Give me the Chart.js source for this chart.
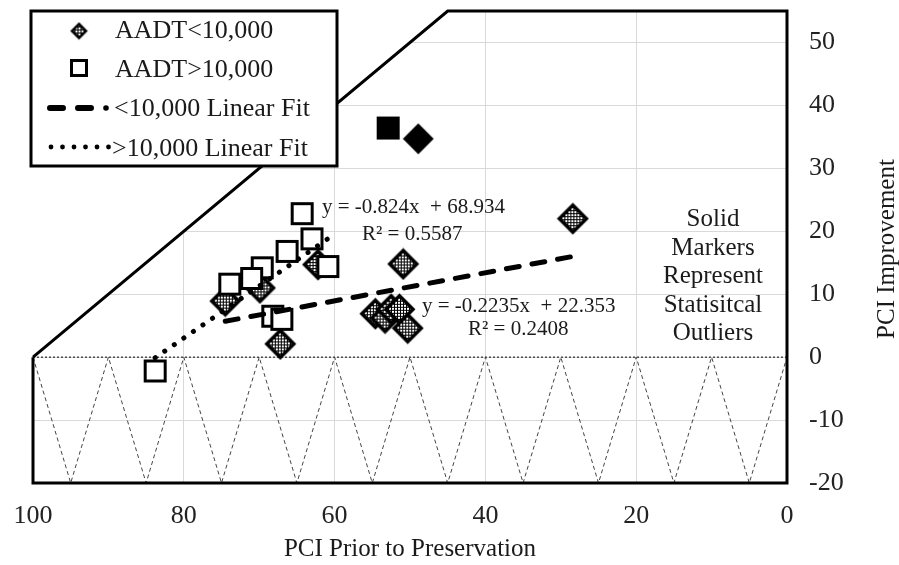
<!DOCTYPE html>
<html>
<head>
<meta charset="utf-8">
<script src="https://cdn.jsdelivr.net/npm/chart.js@4.4.1/dist/chart.umd.min.js"></script>
<style>
  html, body { margin: 0; padding: 0; background: #fff; }
  #wrap { width: 899px; height: 565px; }
</style>
</head>
<body>
<div id="wrap"><canvas id="chart" width="899" height="565"></canvas></div>
<script>
// Data
const lowX = [28.4, 50.9, 62.2, 69.9, 74.5, 67.2, 54.6, 53.3, 52.5, 51.4, 50.3];
const lowY = [22.0, 14.8, 14.7, 11.0, 8.9, 2.1, 6.9, 6.2, 7.6, 7.6, 4.6];
const highX = [64.3, 63.0, 66.3, 60.9, 69.6, 71.0, 73.9, 68.2, 67.0, 83.8];
const highY = [22.8, 18.8, 16.8, 14.4, 14.2, 12.5, 11.6, 6.5, 6.0, -2.2];
const outDiamondX = [48.9], outDiamondY = [34.7];
const outSquareX = [52.9], outSquareY = [36.4];
const lowFitX = [74.5, 28.4], lowFitY = [5.7, 16.0];
const highFitX = [83.8, 60.9], highFitY = [-0.1, 18.8];
const frameX = [100, 45, 0, 0, 100, 100];
const frameY = [0, 55, 55, -20, -20, 0];
const coverX = [100, 100, 45], coverY = [0, 55, 55];
const zigX = [100, 95, 90, 85, 80, 75, 70, 65, 60, 55, 50, 45, 40, 35, 30, 25, 20, 15, 10, 5, 0];
const zigY = [0, -20, 0, -20, 0, -20, 0, -20, 0, -20, 0, -20, 0, -20, 0, -20, 0, -20, 0, -20, 0];
const zeroX = [100, 0], zeroY = [0, 0];
const xTicks = [100, 80, 60, 40, 20, 0];
const yTicks = [-20, -10, 0, 10, 20, 30, 40, 50];
const legendLabels = ['AADT<10,000', 'AADT>10,000', '<10,000 Linear Fit', '>10,000 Linear Fit'];
const eqHigh = ['y = -0.824x  + 68.934', 'R² = 0.5587'];
const eqLow = ['y = -0.2235x  + 22.353', 'R² = 0.2408'];
const noteLines = ['Solid', 'Markers', 'Represent', 'Statisitcal', 'Outliers'];
const xTitle = 'PCI Prior to Preservation';
const yTitle = 'PCI Improvement';

const SERIF = '"Liberation Serif", "Times New Roman", serif';
const pts = (xs, ys) => xs.map((x, i) => ({ x: x, y: ys[i] }));

// marcadores dibujados en canvas
function makePattern() {
  const p = document.createElement('canvas');
  p.width = 3; p.height = 3;
  const c = p.getContext('2d');
  c.fillStyle = '#000'; c.fillRect(0, 0, 3, 3);
  c.fillStyle = '#fff'; c.fillRect(0, 0, 2, 2);
  return p;
}
function makeDiamond(diag, lw, solid) {
  const s = Math.ceil(diag + lw + 2);
  const cv = document.createElement('canvas');
  cv.width = s; cv.height = s;
  const c = cv.getContext('2d');
  const m = s / 2, h = diag / 2;
  c.beginPath();
  c.moveTo(m, m - h); c.lineTo(m + h, m); c.lineTo(m, m + h); c.lineTo(m - h, m); c.closePath();
  c.fillStyle = solid ? '#000' : c.createPattern(makePattern(), 'repeat');
  c.fill();
  c.lineWidth = lw; c.strokeStyle = '#000'; c.lineJoin = 'miter';
  c.stroke();
  return cv;
}
function makeSquare(side, lw, solid) {
  const s = Math.ceil(side + lw + 2);
  const cv = document.createElement('canvas');
  cv.width = s; cv.height = s;
  const c = cv.getContext('2d');
  const o = (s - side) / 2;
  c.fillStyle = solid ? '#000' : '#fff';
  c.fillRect(o, o, side, side);
  c.lineWidth = lw; c.strokeStyle = '#000';
  c.strokeRect(o, o, side, side);
  return cv;
}
const diamondImg = makeDiamond(27, 3.5, false);
const squareImg = makeSquare(20, 3, false);
const solidDiamondImg = makeDiamond(28, 2, true);
const solidSquareImg = makeSquare(21, 2, true);
const legDiamondImg = makeDiamond(14, 2.5, false);
const legSquareImg = makeSquare(15, 3, false);

// plugin: tapa la rejilla fuera del area valida, leyenda y textos
const decor = {
  id: 'decor',
  beforeDatasetsDraw(chart) {
    const { ctx, scales: { x, y } } = chart;
    ctx.save();
    ctx.beginPath();
    coverX.forEach((v, i) => {
      const px = x.getPixelForValue(v), py = y.getPixelForValue(coverY[i]);
      i ? ctx.lineTo(px, py) : ctx.moveTo(px, py);
    });
    ctx.closePath();
    ctx.fillStyle = '#fff';
    ctx.fill();
    ctx.restore();
  },
  afterDraw(chart) {
    const { ctx, chartArea } = chart;
    ctx.save();
    // caja de leyenda
    ctx.fillStyle = '#fff';
    ctx.fillRect(31, 11, 306, 155);
    ctx.lineWidth = 3; ctx.strokeStyle = '#000';
    ctx.strokeRect(31, 11, 306, 155);
    ctx.drawImage(legDiamondImg, 79 - legDiamondImg.width / 2, 31 - legDiamondImg.height / 2);
    ctx.drawImage(legSquareImg, 79 - legSquareImg.width / 2, 68 - legSquareImg.height / 2);
    ctx.lineCap = 'round';
    ctx.lineWidth = 6;
    ctx.beginPath();
    ctx.moveTo(50, 108); ctx.lineTo(63, 108);
    ctx.moveTo(78, 108); ctx.lineTo(91, 108);
    ctx.stroke();
    ctx.fillStyle = '#000';
    ctx.beginPath(); ctx.arc(106, 108, 2.8, 0, Math.PI * 2); ctx.fill();
    [51, 62.5, 74, 85.5, 97, 108.5].forEach(cx => {
      ctx.beginPath(); ctx.arc(cx, 147, 2.4, 0, Math.PI * 2); ctx.fill();
    });
    ctx.fillStyle = '#1a1a1a';
    ctx.font = '26px ' + SERIF;
    ctx.textBaseline = 'alphabetic';
    ctx.textAlign = 'left';
    ctx.fillText(legendLabels[0], 115, 38);
    ctx.fillText(legendLabels[1], 115, 77);
    ctx.fillText(legendLabels[2], 114, 116);
    ctx.fillText(legendLabels[3], 112, 156);

    // ecuaciones
    ctx.font = '21px ' + SERIF;
    ctx.fillText(eqHigh[0], 322, 213);
    ctx.fillText(eqHigh[1], 362, 240);
    ctx.fillText(eqLow[0], 422, 312);
    ctx.fillText(eqLow[1], 468, 335);

    // nota
    ctx.font = '25px ' + SERIF;
    ctx.textAlign = 'center';
    [226, 255, 283, 312, 340].forEach((by, i) => ctx.fillText(noteLines[i], 713, by));

    // titulos de ejes
    ctx.font = '25px ' + SERIF;
    ctx.fillText(xTitle, (chartArea.left + chartArea.right) / 2, 556);
    ctx.translate(894, (chartArea.top + chartArea.bottom) / 2 + 2);
    ctx.rotate(-Math.PI / 2);
    ctx.fillText(yTitle, 0, 0);
    ctx.restore();
  }
};

new Chart(document.getElementById('chart'), {
  type: 'scatter',
  data: {
    datasets: [
      { data: pts(zeroX, zeroY), showLine: true, borderColor: '#000', borderWidth: 1, borderDash: [2, 2], pointRadius: 0, order: 10 },
      { data: pts(zigX, zigY), showLine: true, borderColor: '#444', borderWidth: 1, borderDash: [4, 3], pointRadius: 0, order: 9 },
      { data: pts(frameX, frameY), showLine: true, borderColor: '#000', borderWidth: 3, pointRadius: 0, clip: false, order: 8 },
      { data: pts(lowX, lowY), pointStyle: diamondImg, order: 6 },
      { data: pts(highX, highY), pointStyle: squareImg, order: 5 },
      { data: pts(lowFitX, lowFitY), showLine: true, borderColor: '#000', borderWidth: 5, borderDash: [13, 13], borderCapStyle: 'round', pointRadius: 0, order: 4 },
      { data: pts(highFitX, highFitY), showLine: true, borderColor: '#000', borderWidth: 5, borderDash: [0.1, 11.5], borderCapStyle: 'round', pointRadius: 0, order: 3 },
      { data: pts(outDiamondX, outDiamondY), pointStyle: solidDiamondImg, order: 2 },
      { data: pts(outSquareX, outSquareY), pointStyle: solidSquareImg, order: 1 }
    ]
  },
  options: {
    responsive: false,
    animation: false,
    events: [],
    layout: { padding: { left: 33, top: 11, right: 0, bottom: 0 } },
    plugins: { legend: { display: false }, tooltip: { enabled: false } },
    scales: {
      x: {
        type: 'linear', min: 0, max: 100, reverse: true, position: 'bottom',
        grid: { color: '#d9d9d9', lineWidth: 1, drawTicks: false },
        border: { display: false },
        ticks: { color: '#222', font: { family: SERIF, size: 26 }, padding: 18, maxRotation: 0 },
        afterBuildTicks: s => { s.ticks = xTicks.map(v => ({ value: v })); },
        afterFit: s => { s.height = 82; s.paddingLeft = 0; s.paddingRight = 0; }
      },
      y: {
        type: 'linear', min: -20, max: 55, position: 'right',
        grid: { color: '#d9d9d9', lineWidth: 1, drawTicks: false },
        border: { display: false },
        ticks: { color: '#222', font: { family: SERIF, size: 26 }, padding: 22 },
        afterBuildTicks: s => { s.ticks = yTicks.map(v => ({ value: v })); },
        afterFit: s => { s.width = 112; s.paddingTop = 0; s.paddingBottom = 0; }
      }
    }
  },
  plugins: [decor]
});
</script>
</body>
</html>
